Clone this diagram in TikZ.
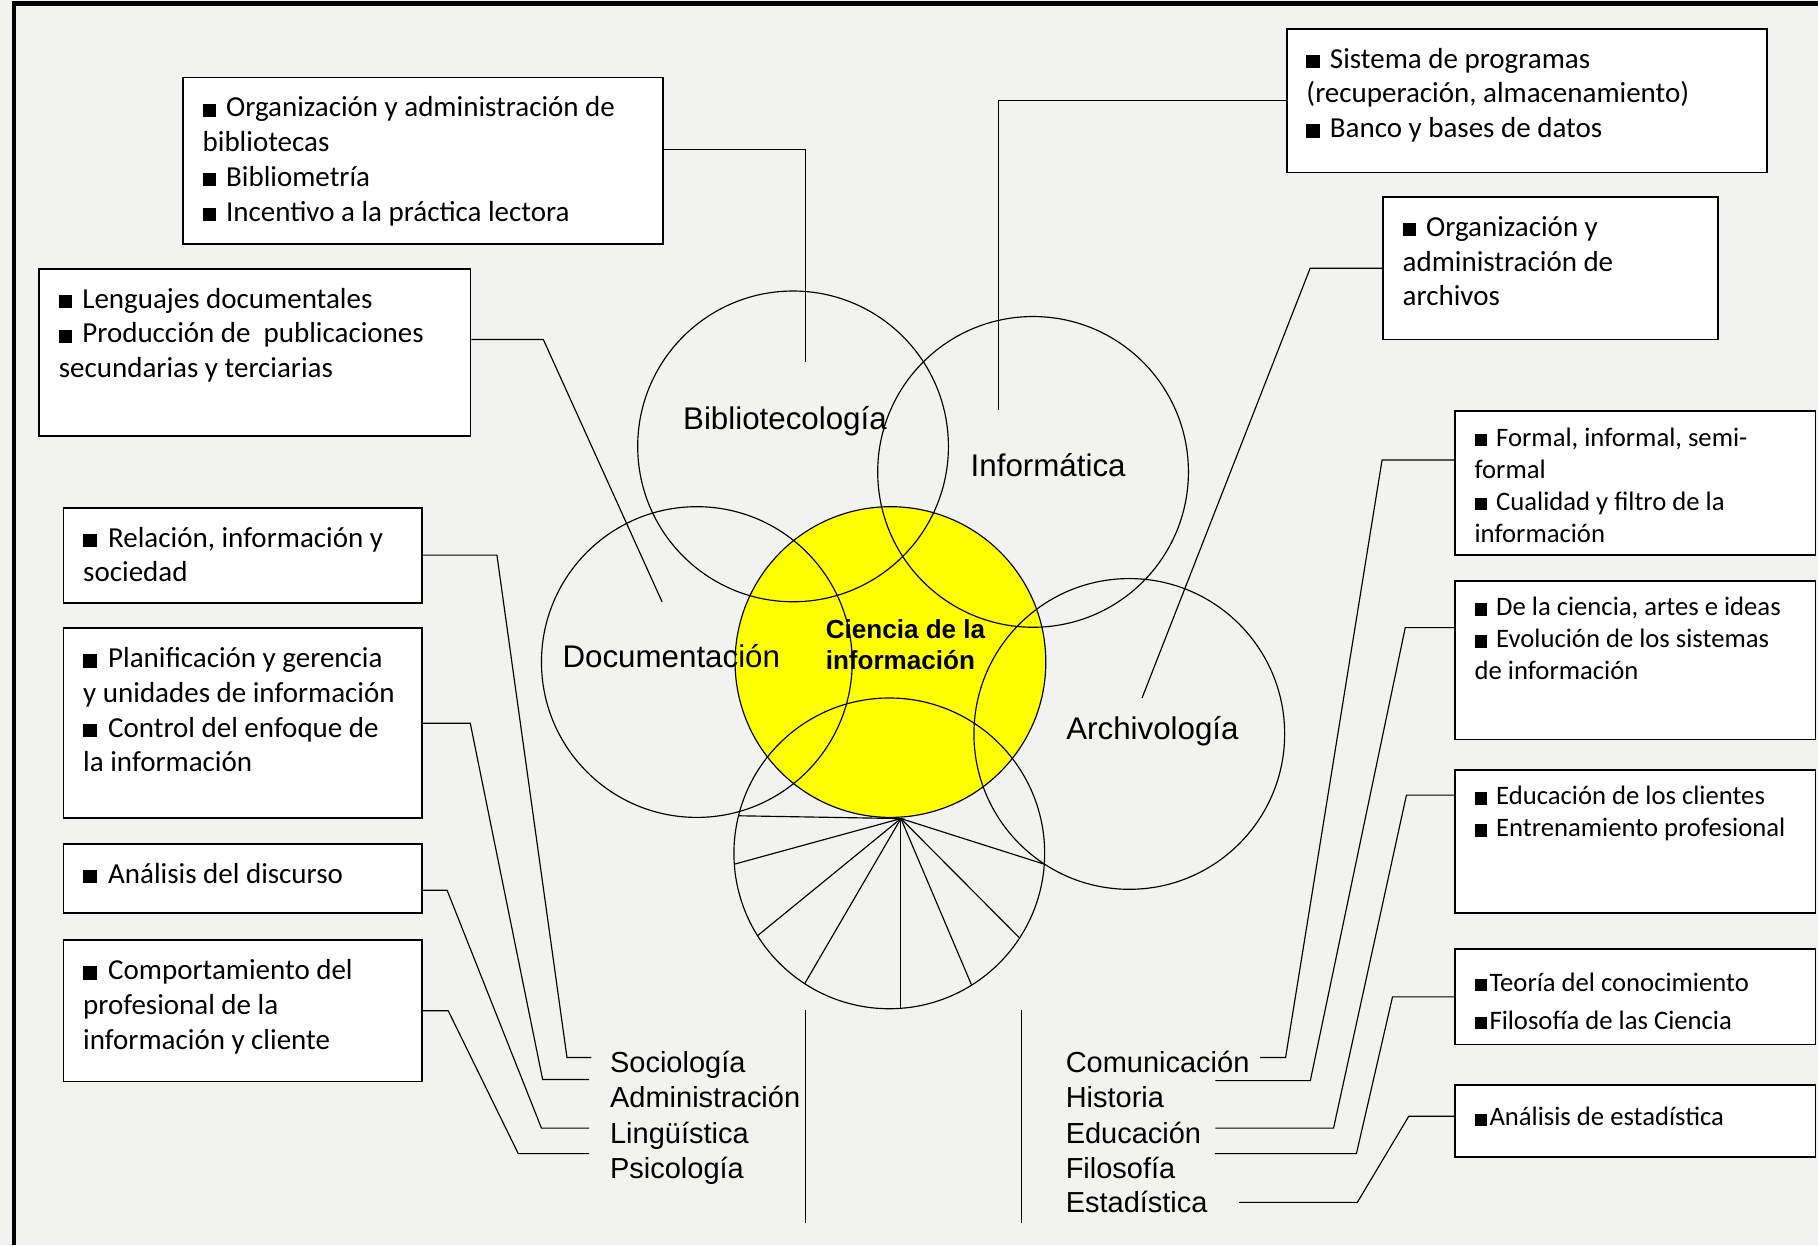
\documentclass[tikz,border=0pt]{standalone}
\usepackage{fontspec}
\setmainfont{Carlito}
\newfontfamily\arialfont{Liberation Sans}
\definecolor{bggray}{RGB}{242,242,240}
\definecolor{sunyellow}{RGB}{255,255,0}
\newcommand{\sq}{\rule{0.46em}{0.46em}}

\begin{document}
\begin{tikzpicture}[x=1pt,y=-1pt,
  info box/.style={draw,fill=white,line width=1.6pt,anchor=north west,inner xsep=17pt,inner ysep=13pt,font=\fontsize{25}{30}\selectfont},
  side box/.style={info box,inner ysep=11pt,font=\fontsize{23}{27.5}\selectfont},
  field/.style={circle,draw,line width=1pt,minimum size=268pt,inner sep=0pt,outer sep=0pt},
  field label/.style={anchor=base,inner sep=0pt,font=\arialfont\fontsize{27}{32}\selectfont},
  area/.style={anchor=base west,inner sep=0pt,font=\arialfont\fontsize{25}{30}\selectfont},
  link/.style={line width=1pt}]

\useasboundingbox (0,0) rectangle (1568,1074);
\fill[bggray] (0,0) rectangle (1568,1074);
\draw[line width=3.5pt] (12,1074) -- (12,3) -- (1568,3);

% circles
\node[field,fill=sunyellow] (cien) at (768,571) {};
\node[field] (bib) at (684,385) {};
\node[field] (inf) at (891,407) {};
\node[field] (doc) at (601,571) {};
\node[field] (arc) at (974,633) {};
\node[field] (pie) at (767,736) {};

\coordinate (apex) at (777,706);
\draw[link] (pie.166.7) -- (apex) -- (pie.184.4);
\foreach \a in {212.6,237.9,302.4,327.3,356.1}
  \draw[link] (apex) -- (pie.\a);
\draw[link] (apex) -- (apex |- pie.south);

\node[field label] (bibl) at (677,370) {Bibliotecología};
\node[field label] (infl) at (904,411) {Informática};
\node[field label] (docl) at (579,576) {Documentación};
\node[field label] (arcl) at (994,638) {Archivología};
\node[anchor=west,align=left,inner sep=0pt,font=\arialfont\bfseries\fontsize{22.5}{27}\selectfont] (cienl) at (712,556) {Ciencia de la\\información};

% boxes, left
\node[info box] (B1) at (157,66) {\parbox[t][118pt][t]{380pt}{\raggedright\strut\sq\hspace{0.35em}Organización y administración de\\bibliotecas\\\sq\hspace{0.35em}Bibliometría\\\sq\hspace{0.35em}Incentivo a la práctica lectora}};
\node[info box] (L) at (33,231) {\parbox[t][118pt][t]{338pt}{\raggedright\strut\sq\hspace{0.35em}Lenguajes documentales\\\sq\hspace{0.35em}Producción de\ \ publicaciones\\secundarias y terciarias}};
\node[info box] (R1) at (54,437) {\parbox[t][56pt][t]{275pt}{\raggedright\strut\sq\hspace{0.4em}Relación, información y\\sociedad}};
\node[info box] (R2) at (54,541) {\parbox[t][138pt][t]{275pt}{\raggedright\strut\sq\hspace{0.4em}Planificación y gerencia\\y unidades de información\\\sq\hspace{0.4em}Control del enfoque de\\la información}};
\node[info box] (R3) at (54,727) {\parbox[t][34pt][t]{275pt}{\raggedright\strut\sq\hspace{0.4em}Análisis del discurso}};
\node[info box] (R4) at (54,810) {\parbox[t][96pt][t]{275pt}{\raggedright\strut\sq\hspace{0.4em}Comportamiento del\\profesional de la\\información y cliente}};

% boxes, right
\node[info box] (S) at (1109,24) {\parbox[t][98pt][t]{380pt}{\raggedright\strut\sq\hspace{0.35em}Sistema de programas\\(recuperación, almacenamiento)\\\sq\hspace{0.35em}Banco y bases de datos}};
\node[info box] (A) at (1192,169) {\parbox[t][97pt][t]{255pt}{\raggedright\strut\sq\hspace{0.35em}Organización y\\administración de\\archivos}};
\node[side box] (F1) at (1254,354) {\parbox[t][102pt][t]{277pt}{\raggedright\strut\sq\hspace{0.35em}Formal, informal, semi-\\formal\\\sq\hspace{0.35em}Cualidad y filtro de la\\información}};
\node[side box] (F2) at (1254,500) {\parbox[t][115pt][t]{277pt}{\raggedright\strut\sq\hspace{0.35em}De la ciencia, artes e ideas\\\sq\hspace{0.35em}Evolución de los sistemas\\de información}};
\node[side box] (F3) at (1254,663) {\parbox[t][102pt][t]{277pt}{\raggedright\strut\sq\hspace{0.35em}Educación de los clientes\\\sq\hspace{0.35em}Entrenamiento profesional}};
\node[side box,inner ysep=13pt,font=\fontsize{23}{33}\selectfont] (F4) at (1254,818) {\parbox[t][56pt][t]{277pt}{\raggedright\strut\sq\hspace{0.1em}Teoría del conocimiento\\\sq\hspace{0.1em}Filosofía de las Ciencia}};
\node[side box,inner ysep=16pt] (F5) at (1254,935) {\parbox[t][30pt][t]{277pt}{\raggedright\strut\sq\hspace{0.1em}Análisis de estadística}};

% disciplines
\node[area] (soc) at (526,925) {Sociología};
\node[area] (adm) at (526,955) {Administración};
\node[area] (lin) at (526,986) {Lingüística};
\node[area] (psi) at (526,1016) {Psicología};
\node[area] (com) at (919,925) {Comunicación};
\node[area] (his) at (919,955) {Historia};
\node[area] (edu) at (919,986) {Educación};
\node[area] (fil) at (919,1016) {Filosofía};
\node[area] (est) at (919,1046) {Estadística};

\draw[link] (695,871) -- (695,1055);
\draw[link] (881,871) -- (881,1055);

% links
\coordinate (bibEnd) at (695,312);
\coordinate (docEnd) at (571,519);
\coordinate (infEnd) at (861,354);
\coordinate (arcEnd) at (985,602);

\draw[link] ([yshift=10pt]B1.east) -| (bibEnd);
\draw[link] ([yshift=11pt]L.east) -- ++(62,0) -- (docEnd);
\draw[link] (S.west) -| (infEnd);
\draw[link] (A.west) -- ++(-62,0) -- (arcEnd);

\draw[link] (R1.east) -- ++(64,0) -- ([xshift=-37pt,yshift=13pt]soc.base west) -- ++(21,0);
\draw[link] (R2.east) -- ++(41,0) -- ([xshift=-58pt,yshift=24pt]adm.base west) -- ++(40,0);
\draw[link] ([yshift=-10pt]R3.east) -- ++(21,0) -- ([xshift=-59pt,yshift=13pt]lin.base west) -- ++(41,0);
\draw[link] (R4.east) -- ++(22,0) -- ([xshift=-79pt,yshift=21pt]psi.base west) -- ++(61,0);

\draw[link] ([yshift=20pt]F1.west) -- ++(-62,0) -- ([xshift=31pt,yshift=13pt]com.base east) -- ++(-22,0);
\draw[link] ([yshift=28pt]F2.west) -- ++(-42,0) -- ([xshift=126pt,yshift=23pt]his.base east) -- ++(-82,0);
\draw[link] ([yshift=40pt]F3.west) -- ++(-41,0) -- ([xshift=114pt,yshift=13pt]edu.base east) -- ++(-102,0);
\draw[link] (F4.west) -- ++(-53,0) -- ([xshift=156pt,yshift=21pt]fil.base east) -- ++(-122,0);
\draw[link] ([yshift=4pt]F5.west) -- ++(-39,0) -- ([xshift=129pt,yshift=9pt]est.base east) -- ++(-102,0);
\end{tikzpicture}
\end{document}
